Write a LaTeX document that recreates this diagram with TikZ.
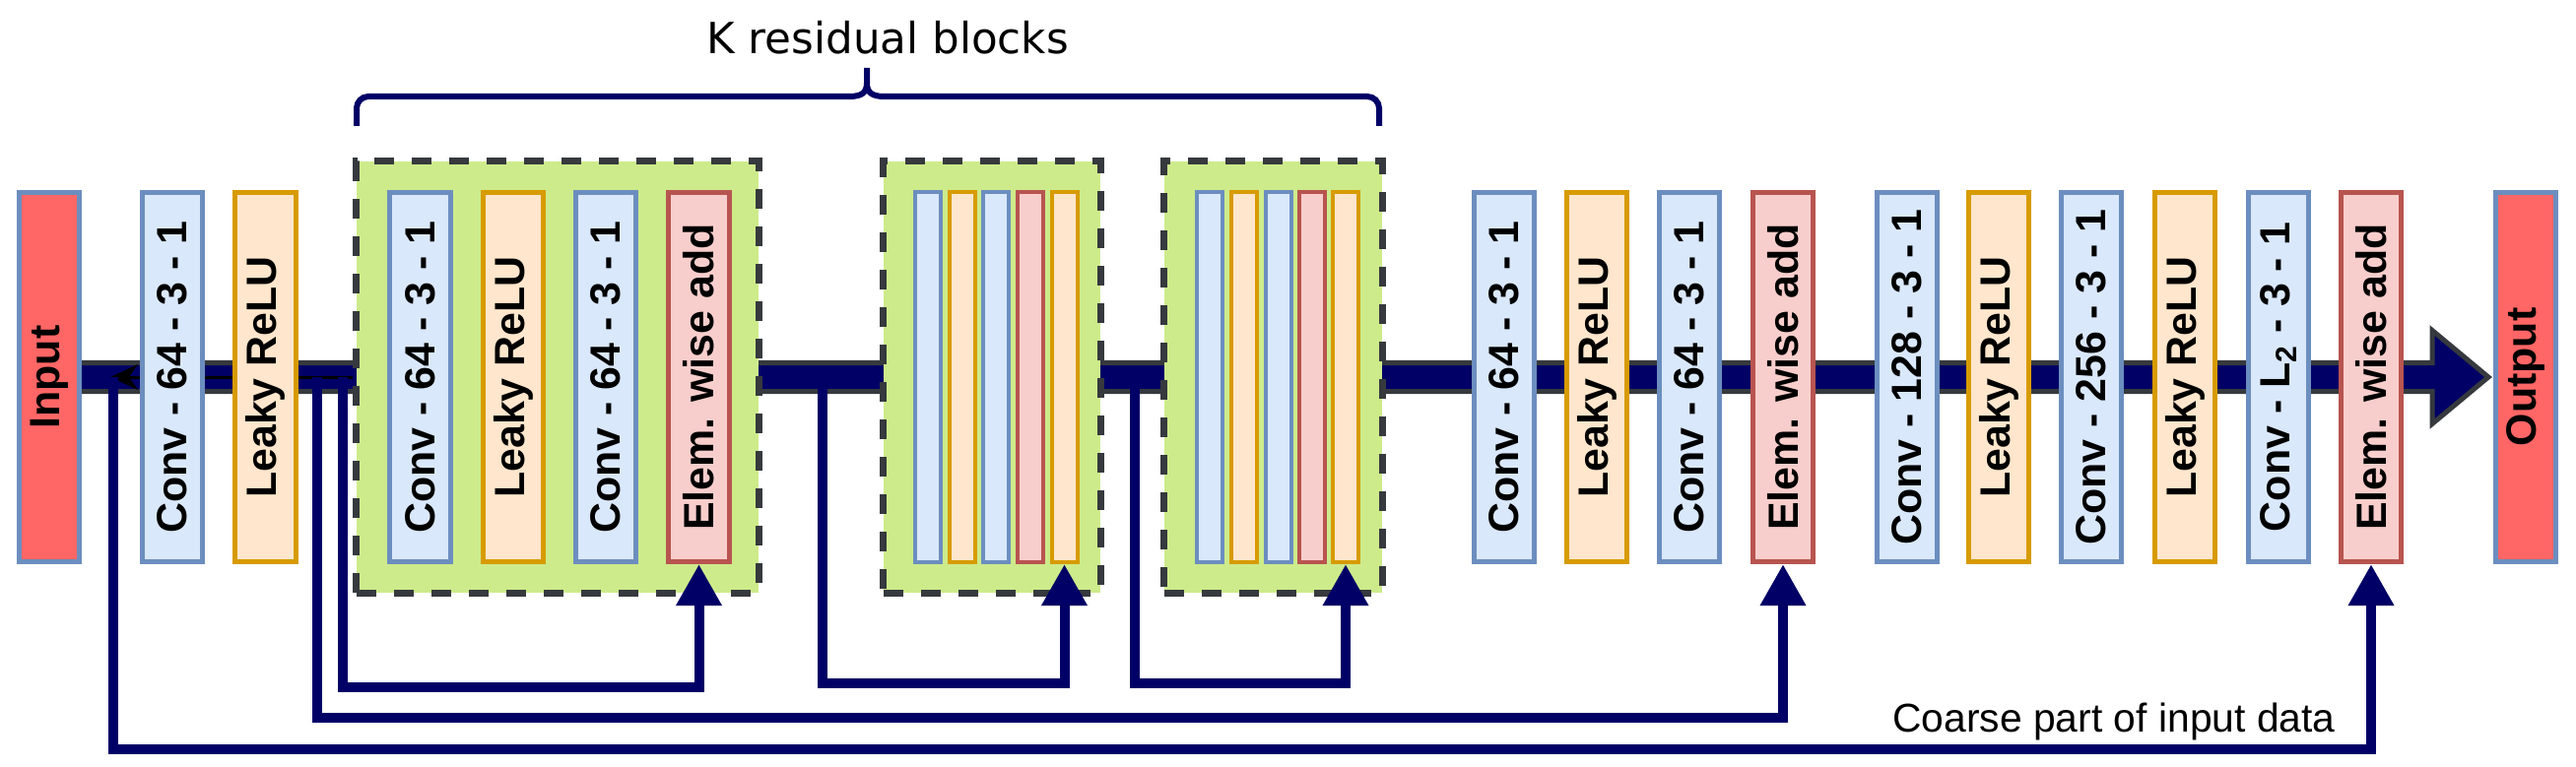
\documentclass[tikz,border=0pt]{standalone}
\usepackage{fontspec}
\setmainfont{Liberation Sans}
\newfontfamily\dejavu{DejaVu Sans}
\usetikzlibrary{arrows.meta}

\definecolor{navyline}{HTML}{000066}
\definecolor{darkedge}{HTML}{36393D}
\definecolor{convfill}{HTML}{DAE8FC}
\definecolor{convline}{HTML}{6C8EBF}
\definecolor{relufill}{HTML}{FFE6CC}
\definecolor{reluline}{HTML}{D79B00}
\definecolor{addfill}{HTML}{F8CECC}
\definecolor{addline}{HTML}{B85450}
\definecolor{iofill}{HTML}{FF6666}
\definecolor{blockfill}{HTML}{CDEB8B}

\tikzset{
	boxbase/.style={line width=0.05cm, minimum width=0.61cm, minimum height=3.75cm, inner sep=0pt, font=\fontsize{12.2}{14}\selectfont\bfseries},
	convbox/.style={boxbase, draw=convline, fill=convfill},
	relubox/.style={boxbase, draw=reluline, fill=relufill},
	addbox/.style={boxbase, draw=addline, fill=addfill},
	iobox/.style={boxbase, draw=convline, fill=iofill},
	thinbar/.style={line width=0.04cm, minimum width=0.26cm, minimum height=3.76cm, inner sep=0pt},
	resblock/.style={fill=blockfill, draw=darkedge, line width=0.07cm, dash pattern=on 0.2cm off 0.18cm, minimum height=4.38cm, inner sep=0pt},
	skipline/.style={navyline, line width=0.1cm, -{Triangle[length=0.42cm, width=0.44cm]}},
	braceline/.style={navyline, line width=0.06cm},
}

\begin{document}
\begin{tikzpicture}[x=0.01cm, y=-0.01cm]
			\useasboundingbox (0,0) rectangle (2615,779);
			% main data path
			\draw[line width=0.05cm, draw=darkedge, fill=navyline, line join=miter] (50,368.5) -- (2469,368.5) -- (2469,335.5) -- (2526,383) -- (2469,430.5) -- (2469,397.5) -- (50,397.5) -- cycle;
			% residual blocks
			\node[resblock, minimum width=4.08cm] (G1)at(566,383) {};
			\node[resblock, minimum width=2.2cm] (G2)at(1007,383) {};
			\node[resblock, minimum width=2.21cm] (G3)at(1292.5,383) {};
			\coordinate (t0) at (112,383);
			\draw[black, line width=0.03cm, -{Stealth[length=0.28cm, width=0.26cm]}] (G1.west) -- (t0);
			% layers
			\node[iobox] (In)at(50,383) {\rotatebox{90}{Input}};
			\node[convbox] (C1)at(175,383) {\rotatebox{90}{Conv - 64 - 3 - 1}};
			\node[relubox] (R1)at(269.5,383) {\rotatebox{90}{Leaky ReLU}};
			\node[convbox] (C2)at(426.5,383) {\rotatebox{90}{Conv - 64 - 3 - 1}};
			\node[relubox] (R2)at(521,383) {\rotatebox{90}{Leaky ReLU}};
			\node[convbox] (C3)at(615,383) {\rotatebox{90}{Conv - 64 - 3 - 1}};
			\node[addbox] (E1)at(709.5,383) {\rotatebox{90}{Elem. wise add}};
			\node[thinbar, draw=convline, fill=convfill] (B21)at(941.5,383) {};
			\node[thinbar, draw=reluline, fill=relufill] (B22)at(976.5,383) {};
			\node[thinbar, draw=convline, fill=convfill] (B23)at(1011,383) {};
			\node[thinbar, draw=addline, fill=addfill] (B24)at(1045.5,383) {};
			\node[thinbar, draw=reluline, fill=relufill] (B25)at(1080.5,383) {};
			\node[thinbar, draw=convline, fill=convfill] (B31)at(1228,383) {};
			\node[thinbar, draw=reluline, fill=relufill] (B32)at(1262.5,383) {};
			\node[thinbar, draw=convline, fill=convfill] (B33)at(1297.5,383) {};
			\node[thinbar, draw=addline, fill=addfill] (B34)at(1331.5,383) {};
			\node[thinbar, draw=reluline, fill=relufill] (B35)at(1366,383) {};
			\node[convbox] (C4)at(1527,383) {\rotatebox{90}{Conv - 64 - 3 - 1}};
			\node[relubox] (R3)at(1621,383) {\rotatebox{90}{Leaky ReLU}};
			\node[convbox] (C5)at(1715,383) {\rotatebox{90}{Conv - 64 - 3 - 1}};
			\node[addbox] (E2)at(1810,383) {\rotatebox{90}{Elem. wise add}};
			\node[convbox] (C6)at(1935.5,383) {\rotatebox{90}{Conv - 128 - 3 - 1}};
			\node[relubox] (R4)at(2029,383) {\rotatebox{90}{Leaky ReLU}};
			\node[convbox] (C7)at(2123,383) {\rotatebox{90}{Conv - 256 - 3 - 1}};
			\node[relubox] (R5)at(2218,383) {\rotatebox{90}{Leaky ReLU}};
			\node[convbox] (C8)at(2313,383) {\rotatebox{90}{Conv - L\textsubscript{2} - 3 - 1}};
			\node[addbox] (E3)at(2407,383) {\rotatebox{90}{Elem. wise add}};
			\node[iobox] (Out)at(2564,383) {\rotatebox{90}{Output}};
			% skip connections
			\coordinate (s1) at (348,383);
			\coordinate (s2) at (322,383);
			\coordinate (s3) at (115,383);
			\coordinate (s4) at (835,383);
			\coordinate (s5) at (1152,383);
			\draw[skipline] (s1) -- ++(0,315) -| (E1.south);
			\draw[skipline] (s2) -- ++(0,346) -| (E2.south);
			\draw[skipline] (s3) -- ++(0,378) -| (E3.south);
			\draw[skipline] (s4) -- ++(0,311) -| (B25.south);
			\draw[skipline] (s5) -- ++(0,311) -| (B35.south);
			% brace over the K blocks
			\draw[braceline, rounded corners=0.12cm] (362,128) -- (362,98) -- (862,98);
			\draw[braceline] (862,98) .. controls (875,98) and (880,94) .. (880,84) -- (880,69);
			\draw[braceline] (880,84) .. controls (880,94) and (885,98) .. (898,98);
			\draw[braceline, rounded corners=0.12cm] (898,98) -- (1400,98) -- (1400,128);
			\node[font=\dejavu\fontsize{12.4}{15}\selectfont, anchor=base] (K)at(901,55) {K residual blocks};
			\node[font=\fontsize{11.6}{14}\selectfont, anchor=base] (cp)at(2146,743) {Coarse part of input data};
		\end{tikzpicture}
\end{document}
